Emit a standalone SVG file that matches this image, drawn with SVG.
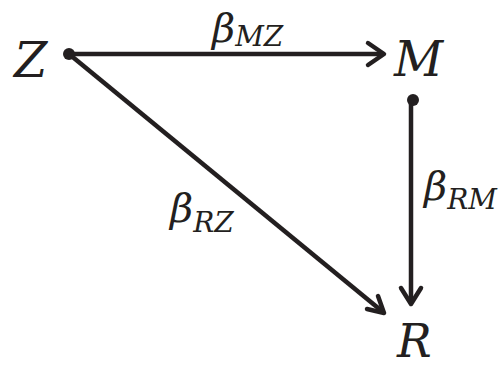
<svg xmlns="http://www.w3.org/2000/svg" width="502" height="367" viewBox="0 0 502 367">
<style>
.v{font-family:"DejaVu Serif","Liberation Serif",serif;font-style:italic;fill:#231f20}
.big{font-size:48px}
.b{font-size:40px}
.s{font-size:28px}
.e{stroke:#231f20;stroke-width:4.5;fill:none}
.h{stroke:#231f20;stroke-width:4.5;fill:none;stroke-linecap:round;stroke-linejoin:round}
</style>
<rect width="502" height="367" fill="#fff"/>
<g id="Z"><text class="v big" x="14" y="77">Z</text><circle cx="69" cy="54" r="6" fill="#231f20"/></g>
<g id="M"><text class="v big" x="394" y="76">M</text><circle cx="413" cy="100" r="6" fill="#231f20"/></g>
<g id="R"><text class="v" style="font-size:46px" x="397" y="357">R</text></g>
<g id="connectors">
<line class="e" x1="69" y1="54" x2="383" y2="54"/>
<polyline class="h" points="368,43 384,54 368,65"/>
<line class="e" x1="69" y1="54" x2="383" y2="312"/>
<polyline class="h" points="367,309 384,313 378,296"/>
<line class="e" x1="411" y1="100" x2="411" y2="302"/>
<polyline class="h" points="401,288 411,304 421,288"/>
</g>
<g id="labels">
<text class="v b" x="212" y="42">β<tspan class="s" dy="4">MZ</tspan></text>
<text class="v b" x="170" y="222">β<tspan class="s" dy="10">RZ</tspan></text>
<text class="v b" x="424" y="200">β<tspan class="s" dy="9">RM</tspan></text>
</g>
</svg>
